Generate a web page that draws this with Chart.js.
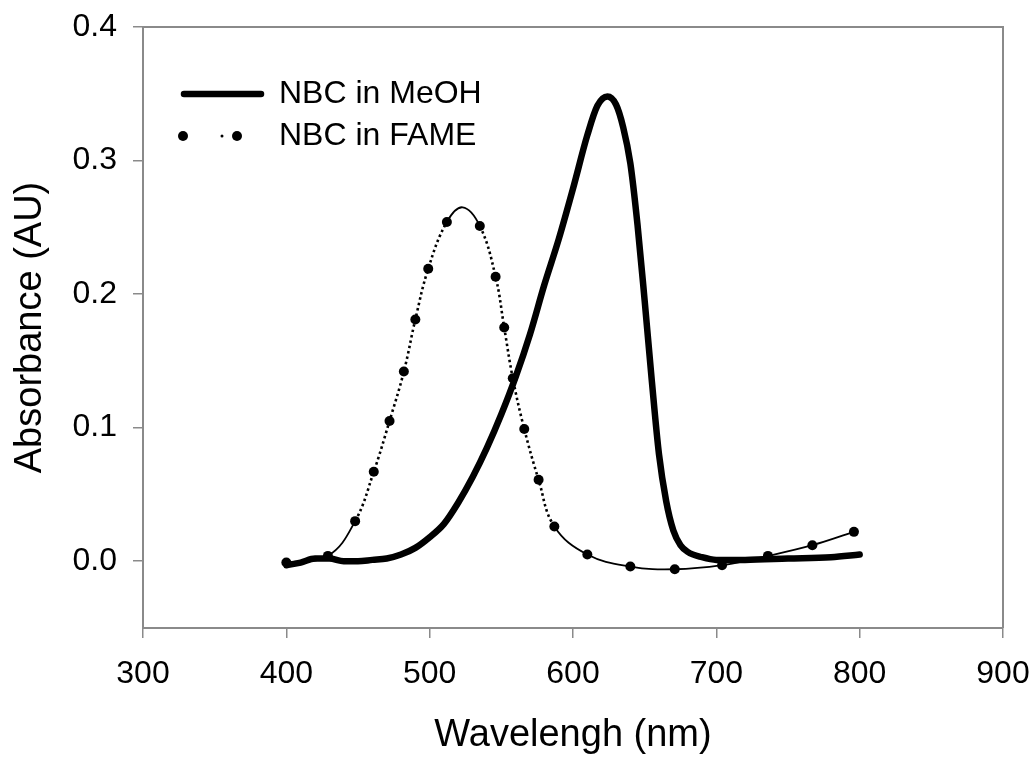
<!DOCTYPE html>
<html>
<head>
<meta charset="utf-8">
<title>NBC absorbance</title>
<script src="https://cdn.jsdelivr.net/npm/chart.js@4.4.1/dist/chart.umd.min.js"></script>
<style>
  html, body { margin: 0; padding: 0; background: #fff; }
  canvas { display: block; }
</style>
</head>
<body>
<canvas id="spectrum" width="1036" height="759"></canvas>
<script>
// Axis ticks
const wavelengthTicks = [300, 400, 500, 600, 700, 800, 900];
const absorbanceTicks = [0.0, 0.1, 0.2, 0.3, 0.4];

// NBC in MeOH (nm / AU)
const meohWl = [400, 410, 420, 430, 440, 450, 460, 470, 480, 490, 500, 510, 520, 530, 540,
  550, 560, 570, 580, 590, 600, 610, 617, 624, 630, 635, 640, 645, 650, 655, 660, 665,
  670, 675, 680, 690, 700, 720, 750, 780, 800];
const meohAbs = [-0.003, -0.001, 0.002, 0.002, 0.000, 0.000, 0.001, 0.002, 0.005, 0.010,
  0.018, 0.028, 0.044, 0.063, 0.085, 0.110, 0.138, 0.170, 0.207, 0.241, 0.279, 0.319,
  0.341, 0.348, 0.342, 0.325, 0.298, 0.252, 0.195, 0.135, 0.080, 0.045, 0.023, 0.012,
  0.007, 0.003, 0.001, 0.001, 0.002, 0.003, 0.005];

// NBC in FAME (nm / AU); the 523 nm point is the band maximum, drawn without a marker
const fameWl = [400, 429, 448, 461, 472, 482, 490, 499, 512, 523, 535, 546, 552, 558, 566,
  576, 587, 610, 640, 671, 704, 736, 767, 796];
const fameAbs = [-0.001, 0.004, 0.030, 0.067, 0.105, 0.142, 0.181, 0.219, 0.254, 0.265,
  0.251, 0.213, 0.175, 0.137, 0.099, 0.061, 0.026, 0.005, -0.004, -0.006, -0.003, 0.004,
  0.012, 0.022];
const famePeak = 9;

const FONT = "'Liberation Sans', Arial, sans-serif";
const AXIS_GREY = '#8a8a8a';

const toPoints = (xs, ys) => xs.map((x, i) => ({ x, y: ys[i] }));

// steep stretches of the FAME trace come out dotted
const isSteep = c => Math.abs(c.p1.y - c.p0.y) > 1.5 * Math.abs(c.p1.x - c.p0.x);

// top and right edges of the plot frame
const framePlugin = {
  id: 'frame',
  afterDraw(chart) {
    const { ctx, chartArea: a } = chart;
    ctx.save();
    ctx.strokeStyle = AXIS_GREY;
    ctx.lineWidth = 2;
    ctx.beginPath();
    ctx.moveTo(a.left, a.top);
    ctx.lineTo(a.right, a.top);
    ctx.lineTo(a.right, a.bottom);
    ctx.stroke();
    ctx.restore();
  }
};

// SigmaPlot-style key in the upper left corner
const keyPlugin = {
  id: 'key',
  afterDraw(chart) {
    const ctx = chart.ctx;
    ctx.save();
    ctx.fillStyle = '#000';
    ctx.strokeStyle = '#000';
    ctx.font = '32px ' + FONT;
    ctx.textBaseline = 'middle';

    ctx.lineWidth = 6.5;
    ctx.lineCap = 'round';
    ctx.beginPath();
    ctx.moveTo(184, 94);
    ctx.lineTo(261, 94);
    ctx.stroke();
    ctx.fillText('NBC in MeOH', 279, 94);

    [[183, 5], [222, 1.5], [237, 5]].forEach(([x, r]) => {
      ctx.beginPath();
      ctx.arc(x, 136, r, 0, Math.PI * 2);
      ctx.fill();
    });
    ctx.fillText('NBC in FAME', 279, 136);
    ctx.restore();
  }
};

// let the layout padding alone decide where the plot area sits
const noOverhang = s => {
  s.paddingTop = 0;
  s.paddingBottom = 0;
  s.paddingLeft = 0;
  s.paddingRight = 0;
};

new Chart(document.getElementById('spectrum'), {
  type: 'line',
  data: {
    datasets: [
      {
        label: 'NBC in FAME',
        data: toPoints(fameWl, fameAbs),
        borderColor: '#000',
        backgroundColor: '#000',
        borderWidth: 1.8,
        tension: 0.4,
        pointRadius: fameWl.map((_, i) => (i === famePeak ? 0 : 5)),
        pointBorderWidth: 0,
        pointBackgroundColor: '#000',
        segment: {
          borderDash: c => (isSteep(c) ? [2.5, 3] : undefined),
          borderWidth: c => (isSteep(c) ? 2.6 : undefined)
        }
      },
      {
        label: 'NBC in MeOH',
        data: toPoints(meohWl, meohAbs),
        borderColor: '#000',
        borderWidth: 6.5,
        borderCapStyle: 'round',
        cubicInterpolationMode: 'monotone',
        pointRadius: 0
      }
    ]
  },
  options: {
    responsive: false,
    animation: false,
    layout: { padding: { left: 0, top: 27, right: 33, bottom: 0 } },
    plugins: {
      legend: { display: false },
      tooltip: { enabled: false }
    },
    scales: {
      x: {
        type: 'linear',
        min: 300,
        max: 900,
        afterFit: s => { s.height = 131; noOverhang(s); },
        afterBuildTicks: s => { s.ticks = wavelengthTicks.map(v => ({ value: v })); },
        border: { color: AXIS_GREY, width: 2 },
        grid: { drawOnChartArea: false, drawTicks: true, tickLength: 10, color: AXIS_GREY, lineWidth: 1.5 },
        ticks: { color: '#000', font: { family: FONT, size: 32 }, padding: 17, maxRotation: 0 },
        title: {
          display: true,
          text: 'Wavelengh (nm)',
          color: '#000',
          font: { family: FONT, size: 38 },
          padding: { top: 0, bottom: 1 }
        }
      },
      y: {
        type: 'linear',
        min: -0.05,
        max: 0.4,
        afterFit: s => { s.width = 143; noOverhang(s); },
        afterBuildTicks: s => { s.ticks = absorbanceTicks.map(v => ({ value: v })); },
        border: { color: AXIS_GREY, width: 2 },
        grid: { drawOnChartArea: false, drawTicks: true, tickLength: 10, color: AXIS_GREY, lineWidth: 1.5 },
        ticks: {
          color: '#000',
          font: { family: FONT, size: 32 },
          padding: 16,
          callback: v => v.toFixed(1)
        },
        title: {
          display: true,
          text: 'Absorbance (AU)',
          color: '#000',
          font: { family: FONT, size: 38 },
          padding: { top: 8, bottom: 0 }
        }
      }
    }
  },
  plugins: [framePlugin, keyPlugin]
});
</script>
</body>
</html>
